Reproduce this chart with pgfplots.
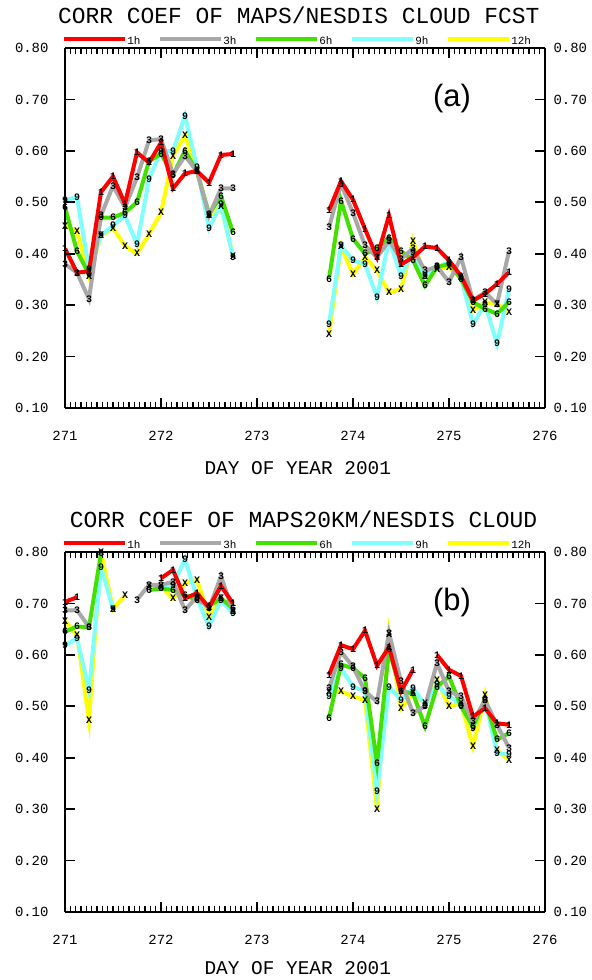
\documentclass[border=0pt]{standalone}
\usepackage{fontspec}
\setmainfont{Liberation Mono}
\newfontfamily\arial{Liberation Sans}
\usepackage{pgfplots}
\usepackage{pgfplotstable}
\pgfplotsset{compat=1.18}

\definecolor{c1}{HTML}{FF0000}
\definecolor{c3}{HTML}{A8A8A8}
\definecolor{c6}{HTML}{44E000}
\definecolor{c9}{HTML}{80FFFF}
\definecolor{c12}{HTML}{FFFF00}

% panel (a): MAPS / NESDIS
\pgfplotstableread{
t       h1    h3    h6    h9    h12
271.000 0.410 0.380 0.490 0.504 0.454
271.125 0.363 0.363 0.405 0.510 0.444
271.250 0.366 0.312 0.360 0.370 0.357
271.375 0.520 0.474 0.470 0.435 0.435
271.500 0.550 0.532 0.470 0.455 0.450
271.625 0.497 0.490 0.480 0.474 0.415
271.750 0.597 0.548 0.500 0.418 0.400
271.875 0.577 0.620 0.580 0.545 0.438
272.000 0.616 0.623 0.594 0.600 0.480
272.125 0.527 0.555 0.553 0.600 0.590
272.250 0.556 0.590 0.600 0.668 0.630
272.375 0.561 0.560 0.560 0.568 0.560
272.500 0.538 0.474 0.477 0.450 0.474
272.625 0.592 0.527 0.512 0.496 0.493
272.750 0.594 0.527 0.441 0.393 0.396
273.250 nan   nan   nan   nan   nan
273.750 0.484 0.451 0.351 0.263 0.244
273.875 0.541 0.536 0.503 0.416 0.414
274.000 0.505 0.479 0.429 0.387 0.360
274.125 0.448 0.416 0.400 0.380 0.393
274.250 0.393 0.393 0.411 0.315 0.367
274.375 0.474 0.425 0.431 0.427 0.325
274.500 0.379 0.390 0.405 0.357 0.331
274.625 0.393 0.410 0.387 0.403 0.425
274.750 0.414 0.367 0.338 0.357 0.357
274.875 0.411 0.375 0.374 0.374 0.370
275.000 0.387 0.345 0.380 0.383 0.374
275.125 0.357 0.393 0.351 0.354 0.354
275.250 0.309 0.309 0.306 0.263 0.290
275.375 0.322 0.325 0.293 0.302 0.306
275.500 0.341 0.302 0.283 0.225 0.302
275.625 0.364 0.405 0.306 0.331 0.286
}\panelA

% panel (b): MAPS 20km / NESDIS
\pgfplotstableread{
t       h1    h3    h6    h9    h12
271.000 0.703 0.686 0.645 0.619 0.665
271.125 0.712 0.687 0.655 0.632 0.639
271.250 nan   0.654 0.654 0.532 0.473
271.375 nan   nan   0.797 0.771 0.800
271.500 nan   nan   nan   0.689 0.689
271.625 nan   nan   nan   nan   0.716
271.750 nan   0.707 nan   nan   nan
271.875 nan   0.736 0.726 nan   0.733
272.000 0.749 0.736 0.729 0.730 0.733
272.125 0.765 0.742 0.726 0.736 0.710
272.250 0.710 0.687 0.716 0.786 0.739
272.375 0.720 0.713 0.707 0.710 0.746
272.500 0.692 0.690 0.695 0.655 0.674
272.625 0.734 0.753 0.710 0.707 0.710
272.750 0.700 0.684 0.690 0.680 0.684
273.250 nan   nan   nan   nan   nan
273.750 0.561 0.535 0.477 0.519 0.529
273.875 0.619 0.606 0.581 0.574 0.529
274.000 0.611 0.577 0.574 0.538 0.519
274.125 0.647 0.529 0.555 0.529 0.512
274.250 0.579 0.509 0.389 0.334 0.300
274.375 0.615 0.643 0.610 0.538 0.640
274.500 0.529 0.548 0.529 0.512 0.496
274.625 0.571 0.487 0.525 0.535 0.525
274.750 nan   0.500 0.461 0.503 0.506
274.875 0.600 0.584 0.538 0.542 0.551
275.000 0.571 0.529 0.558 0.519 0.500
275.125 0.559 0.519 0.500 0.503 0.506
275.250 0.480 0.470 0.461 0.457 0.422
275.375 0.496 0.512 0.512 0.512 0.522
275.500 0.467 0.464 0.435 0.409 0.415
275.625 0.464 0.419 0.448 0.406 0.396
}\panelB

\pgfplotsset{
  panel/.style={
    scale only axis, width=480bp, height=360bp, anchor=south west,
    xmin=271, xmax=276, ymin=0.1, ymax=0.8,
    xtick={271,272,273,274,275,276},
    xticklabels={271,272,273,274,275,276},
    ytick={0.1,0.2,0.3,0.4,0.5,0.6,0.7,0.8},
    yticklabels={0.10,0.20,0.30,0.40,0.50,0.60,0.70,0.80},
    tick align=inside,
    axis line style={line width=1.3bp, -},
    major tick length=0pt,
    tick label style={font=\fontsize{14}{14}\selectfont},
    unbounded coords=jump,
  },
  frameBL/.style={panel, axis x line*=bottom, axis y line*=left,
    xticklabel style={yshift=-20bp},
    yticklabel style={xshift=-13bp},
    title style={font=\fontsize{23}{23}\selectfont, anchor=center, yshift=27bp},
    xlabel style={font=\fontsize{19.5}{19.5}\selectfont, anchor=center}},
  frameTR/.style={panel, axis x line*=top, axis y line*=right,
    xticklabels={},
    yticklabel style={anchor=west, xshift=5bp}},
  series/.style 2 args={#1, line width=4bp, mark=text, text mark={#2},
    text mark as node=true,
    text mark style={font=\fontsize{10}{10}\bfseries\selectfont, text=black, inner sep=0pt},
    mark options={black}},
}

\begin{document}
\begin{tikzpicture}
\useasboundingbox (0,0) rectangle (592bp,980bp);

% ---- panel (a)
\begin{axis}[panel, at={(65bp,572bp)}, axis lines=none]
  \addplot[series={c12}{X}] table[x=t, y=h12] {\panelA};
  \addplot[series={c9}{9}]  table[x=t, y=h9]  {\panelA};
  \addplot[series={c6}{6}]  table[x=t, y=h6]  {\panelA};
  \addplot[series={c3}{3}]  table[x=t, y=h3]  {\panelA};
  \addplot[series={c1}{1}]  table[x=t, y=h1]  {\panelA};
\end{axis}
\begin{axis}[frameBL, at={(65bp,572bp)},
  title={CORR COEF OF MAPS/NESDIS CLOUD FCST},
  title style={at={(axis description cs:0.487,1)}},
  xlabel={DAY OF YEAR 2001},
  xlabel style={at={(axis description cs:0.485,0)}, yshift=-60bp}]
\end{axis}
\begin{axis}[frameTR, at={(65bp,572bp)}]
\end{axis}

% ---- panel (b)
\begin{axis}[panel, at={(65bp,68bp)}, axis lines=none]
  \addplot[series={c12}{X}] table[x=t, y=h12] {\panelB};
  \addplot[series={c9}{9}]  table[x=t, y=h9]  {\panelB};
  \addplot[series={c6}{6}]  table[x=t, y=h6]  {\panelB};
  \addplot[series={c3}{3}]  table[x=t, y=h3]  {\panelB};
  \addplot[series={c1}{1}]  table[x=t, y=h1]  {\panelB};
\end{axis}
\begin{axis}[frameBL, at={(65bp,68bp)},
  title={CORR COEF OF MAPS20KM/NESDIS CLOUD},
  title style={at={(axis description cs:0.497,1)}},
  xlabel={DAY OF YEAR 2001},
  xlabel style={at={(axis description cs:0.485,0)}, yshift=-56bp}]
\end{axis}
\begin{axis}[frameTR, at={(65bp,68bp)}]
\end{axis}

% tick marks of both frames
\foreach \base in {572,68}{
  \foreach \i in {0,...,90}{
    \draw[black, line width=1.5bp] ({(65+\i*5.3333)*1bp},{\base*1bp}) -- ++(0,6bp);
    \draw[black, line width=1.5bp] ({(65+\i*5.3333)*1bp},{(\base+360)*1bp}) -- ++(0,-6bp);
  }
  \foreach \k in {0,...,5}{
    \draw[black, line width=1.6bp] ({(65+\k*96)*1bp},{\base*1bp}) -- ++(0,10bp);
    \draw[black, line width=1.6bp] ({(65+\k*96)*1bp},{(\base+360)*1bp}) -- ++(0,-10bp);
  }
  \foreach \j in {0,...,7}{
    \draw[black, line width=1.8bp] (65bp,{(\base+\j*51.4286)*1bp}) -- ++(10bp,0);
    \draw[black, line width=1.8bp] (545bp,{(\base+\j*51.4286)*1bp}) -- ++(-10bp,0);
  }
}

% legends
\foreach \yy in {941bp,437bp}{
  \foreach \c/\l [count=\i from 0] in {c1/1h,c3/3h,c6/6h,c9/9h,c12/12h}{
    \draw[\c, line width=4.5bp] ({64bp+96bp*\i},\yy) -- ++(61bp,0)
      node[anchor=west, inner sep=0pt, yshift=-2bp, text=black,
           font=\fontsize{11}{11}\selectfont] {\l};
  }
}

\node[font=\arial\fontsize{31}{31}\selectfont] at (452bp,881bp) {(a)};
\node[font=\arial\fontsize{31}{31}\selectfont] at (452bp,377bp) {(b)};
\end{tikzpicture}
\end{document}
